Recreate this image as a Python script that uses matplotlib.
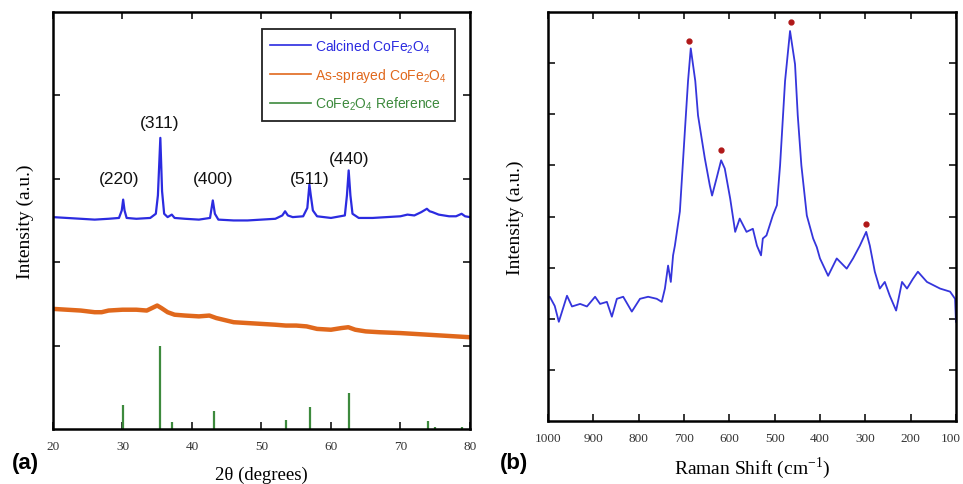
import matplotlib
matplotlib.use("Agg")
import matplotlib.pyplot as plt
import matplotlib.transforms as mtransforms

plt.rcParams['mathtext.fontset'] = 'custom'
plt.rcParams['mathtext.rm'] = 'Liberation Sans'
plt.rcParams['mathtext.it'] = 'Liberation Sans:italic'
plt.rcParams['mathtext.bf'] = 'Liberation Sans:bold'

# ---------------- data: XRD ----------------
xrd_calc_2theta = [20, 22, 24, 26, 28, 29.5, 29.9, 30.1, 30.3, 30.6, 32, 34, 34.8, 35.1, 35.45,
                   35.7, 36.0, 36.5, 37.1, 37.5, 39, 41, 42.6, 43.0, 43.3, 43.8, 46, 48, 50, 52,
                   53.0, 53.4, 53.8, 54.5, 56, 56.6, 56.9, 57.1, 57.4, 58, 60, 62, 62.3, 62.55,
                   62.8, 63.1, 64, 66, 68, 70, 71, 72, 73, 73.8, 74.2, 74.6, 75.5, 77, 78, 78.8,
                   79.3, 80]
xrd_calc_int = [2.54, 2.53, 2.52, 2.51, 2.52, 2.53, 2.62, 2.75, 2.62, 2.53, 2.52, 2.53, 2.58, 2.80, 3.49,
                2.85, 2.58, 2.54, 2.57, 2.53, 2.52, 2.51, 2.53, 2.74, 2.58, 2.51, 2.50, 2.50, 2.51, 2.52,
                2.56, 2.61, 2.56, 2.54, 2.55, 2.65, 2.93, 2.80, 2.62, 2.55, 2.53, 2.56, 2.80, 3.10,
                2.80, 2.58, 2.53, 2.53, 2.54, 2.55, 2.57, 2.56, 2.60, 2.64, 2.61, 2.60, 2.57, 2.55, 2.55, 2.58,
                2.55, 2.54]

xrd_spray_2theta = [20, 22, 24, 26, 27, 28, 30, 32, 33.5, 34.5, 35, 35.6, 36.5, 37.5, 39, 41, 42.5,
                    43.5, 45, 46, 48, 50, 52, 53.5, 55, 56.5, 58, 60, 61.5, 62.5, 63.5, 65, 67, 70,
                    72, 74, 76, 78, 80]
xrd_spray_int = [1.44, 1.43, 1.42, 1.40, 1.40, 1.42, 1.43, 1.43, 1.42, 1.46, 1.48, 1.45, 1.40, 1.37,
                 1.36, 1.35, 1.36, 1.33, 1.30, 1.28, 1.27, 1.26, 1.25, 1.24, 1.24, 1.23, 1.20, 1.19,
                 1.21, 1.22, 1.19, 1.17, 1.16, 1.15, 1.14, 1.13, 1.12, 1.11, 1.10]

ref_2theta = [30.1, 35.45, 37.1, 43.1, 53.5, 57.0, 62.6, 74.0, 75.0, 78.8]
ref_int = [0.29, 1.00, 0.08, 0.21, 0.11, 0.26, 0.43, 0.10, 0.02, 0.02]

hkl_labels = ["(220)", "(311)", "(400)", "(511)", "(440)"]
hkl_x = [29.5, 35.3, 43.0, 56.9, 62.6]
hkl_y = [3.0, 3.68, 3.0, 3.0, 3.24]

# ---------------- data: Raman ----------------
raman_shift = [1000, 996, 985, 976, 958, 947, 929, 914, 896, 885, 870, 859, 848, 834, 815, 797, 779,
               760, 749, 742, 735, 729, 724, 720, 709, 698, 691, 685, 675, 669, 661, 654, 643, 638,
               628, 618, 610, 598, 587, 577, 562, 548, 539, 530, 526, 518, 504, 495, 488, 477, 466,
               455, 449, 441, 429, 415, 407, 400, 382, 363, 341, 327, 312, 298, 290, 279, 268, 257,
               246, 232, 219, 208, 195, 184, 164, 135, 113, 102, 100]
raman_int = [2.40, 2.43, 2.25, 1.94, 2.45, 2.24, 2.29, 2.24, 2.43, 2.29, 2.33, 2.04, 2.39, 2.43, 2.14,
             2.39, 2.43, 2.39, 2.33, 2.59, 3.04, 2.72, 3.24, 3.43, 4.10, 5.67, 6.65, 7.29, 6.65, 5.98,
             5.53, 5.14, 4.61, 4.41, 4.75, 5.10, 4.94, 4.35, 3.70, 3.96, 3.70, 3.76, 3.43, 3.24, 3.57,
             3.63, 4.02, 4.22, 5.00, 6.65, 7.63, 6.98, 5.98, 5.00, 4.02, 3.57, 3.40, 3.18, 2.84, 3.18,
             2.98, 3.18, 3.43, 3.70, 3.43, 2.92, 2.59, 2.72, 2.45, 2.16, 2.72, 2.59, 2.78, 2.92, 2.72,
             2.59, 2.53, 2.39, 1.94]

raman_peak_x = [688, 618, 464, 298]
raman_peak_y = [7.43, 5.31, 7.80, 3.86]

xrd_xticks = [20, 30, 40, 50, 60, 70, 80]
raman_xticks = [1000, 900, 800, 700, 600, 500, 400, 300, 200, 100]

# ---------------- styling ----------------
BLUE = '#2b2be0'
ORANGE = '#e0681c'
GREEN = '#3d8a3d'
RBLUE = '#3535dc'
DRED = '#b01818'
serif = 'Liberation Serif'
sans = 'Liberation Sans'

fig = plt.figure(figsize=(9.63, 4.85), dpi=100)
ax1 = fig.add_axes([0.055, 0.1134, 0.433, 0.860])
ax2 = fig.add_axes([0.569, 0.130, 0.4237, 0.843])

calc_lab = r'Calcined CoFe$_\mathregular{2}$O$_\mathregular{4}$'
spray_lab = r'As-sprayed CoFe$_\mathregular{2}$O$_\mathregular{4}$'
ref_lab = r'CoFe$_\mathregular{2}$O$_\mathregular{4}$ Reference'

ax1.plot(xrd_calc_2theta, xrd_calc_int, color=BLUE, lw=1.6)
ax1.plot(xrd_spray_2theta, xrd_spray_int, color=ORANGE, lw=3.2)
ax1.vlines(ref_2theta, 0, ref_int, color=GREEN, lw=1.6)
for lab, x, y in zip(hkl_labels, hkl_x, hkl_y):
    ax1.text(x, y, lab, ha='center', va='center', fontsize=12.5, family=sans, color='#111111')

h1, = ax1.plot([], [], color=BLUE, lw=1.2)
h2, = ax1.plot([], [], color=ORANGE, lw=1.2)
h3, = ax1.plot([], [], color=GREEN, lw=1.2)
leg = ax1.legend([h1, h2, h3], [calc_lab, spray_lab, ref_lab],
                 loc='upper right', bbox_to_anchor=(0.964, 0.959), borderaxespad=0,
                 fancybox=False, framealpha=1, edgecolor='#222222',
                 prop={'family': sans, 'size': 10}, handlelength=2.9,
                 handletextpad=0.3, labelspacing=0.8, borderpad=0.6)
leg.get_frame().set_linewidth(1.3)
for t, c in zip(leg.get_texts(), [BLUE, ORANGE, GREEN]):
    t.set_color(c)

ax1.set_xlim(20, 80)
ax1.set_ylim(0, 5)
ax1.set_xticks(xrd_xticks)
ax1.set_yticks([1, 2, 3, 4])
ax1.set_yticklabels([])
ax1.set_xlabel('2θ (degrees)', family=serif, fontsize=13.5, labelpad=10)
ax1.set_ylabel('Intensity (a.u.)', family=serif, fontsize=14, labelpad=6)

ax2.plot(raman_shift, raman_int, color=RBLUE, lw=1.3)
ax2.plot(raman_peak_x, raman_peak_y, 'o', color=DRED, ms=3.5)
ax2.set_xlim(1000, 100)
ax2.set_ylim(0, 8)
ax2.set_xticks(raman_xticks)
ax2.set_yticks([1, 2, 3, 4, 5, 6, 7])
ax2.set_yticklabels([])
ax2.set_xlabel('Raman Shift (cm$^{\\mathregular{-1}}$)', family=serif, fontsize=14, labelpad=8)
ax2.set_ylabel('Intensity (a.u.)', family=serif, fontsize=14, labelpad=9)

for ax in (ax1, ax2):
    ax.tick_params(direction='in', length=5, width=1.1, top=True, right=True,
                   labelsize=9.5, labelcolor='#333333', pad=8)
    for lab in ax.get_xticklabels():
        lab.set_family(serif)
    for s in ax.spines.values():
        s.set_linewidth(1.8)

# keep the last Raman tick label inside the figure
last = ax2.get_xticklabels()[-1]
last.set_transform(last.get_transform() + mtransforms.ScaledTranslation(-5 / 100, 0, fig.dpi_scale_trans))

fig.text(0.012, 0.032, '(a)', family=sans, weight='bold', fontsize=16)
fig.text(0.519, 0.032, '(b)', family=sans, weight='bold', fontsize=16)

fig.savefig('out.png', dpi=100)
